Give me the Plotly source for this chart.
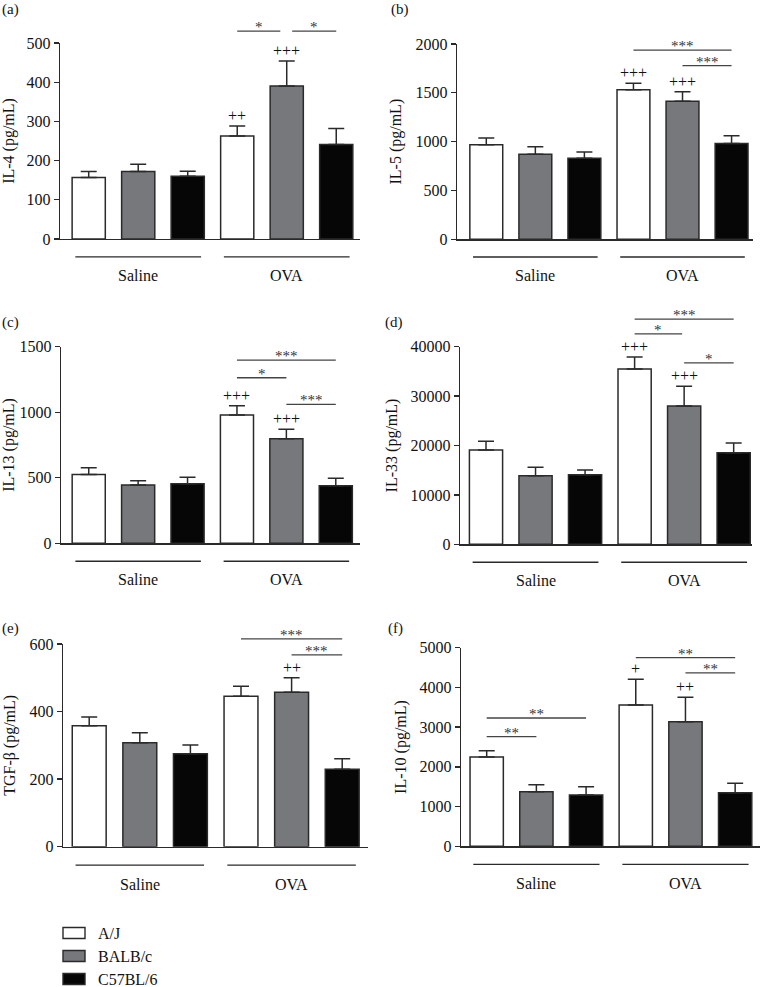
import plotly.graph_objects as go

# ---------------- data ----------------
strains = ["A/J", "BALB/c", "C57BL/6"]
groups = ["Saline", "OVA"]
strain_colors = ["#ffffff", "#77787c", "#060606"]

# order: Saline A/J, BALB/c, C57BL/6, OVA A/J, BALB/c, C57BL/6
il4_mean = [157, 172, 160, 263, 390, 241]
il4_sem = [15, 19, 13, 25, 64, 41]
il5_mean = [969, 870, 829, 1532, 1413, 980]
il5_sem = [69, 79, 65, 65, 99, 81]
il13_mean = [524, 445, 455, 979, 798, 440]
il13_sem = [53, 33, 48, 71, 72, 56]
il33_mean = [19090, 13900, 14100, 35480, 27990, 18550]
il33_sem = [1750, 1680, 940, 2430, 3980, 1950]
tgfb_mean = [358, 308, 275, 445, 457, 229]
tgfb_sem = [26, 29, 26, 30, 43, 31]
il10_mean = [2248, 1376, 1292, 3557, 3138, 1351]
il10_sem = [160, 176, 210, 646, 612, 235]

il4_plus = ["", "", "", "++", "+++", ""]
il5_plus = ["", "", "", "+++", "+++", ""]
il13_plus = ["", "", "", "+++", "+++", ""]
il33_plus = ["", "", "", "+++", "+++", ""]
tgfb_plus = ["", "", "", "", "++", ""]
il10_plus = ["", "", "", "+", "++", ""]

il4_sig = [(3, 4, "*"), (4, 5, "*")]
il5_sig = [(3, 5, "***"), (4, 5, "***")]
il13_sig = [(3, 5, "***"), (3, 4, "*"), (4, 5, "***")]
il33_sig = [(3, 5, "***"), (3, 4, "*"), (4, 5, "*")]
tgfb_sig = [(3, 5, "***"), (4, 5, "***")]
il10_sig = [(0, 2, "**"), (0, 1, "**"), (3, 5, "**"), (4, 5, "**")]

# ---------------- layout spec ----------------
W, H = 760, 987
FONT = "Liberation Serif, Times New Roman, serif"
INK = "#2a2a2a"

panels = [
    dict(lab="(a)", lab_xy=(10, 9), title="IL-4 (pg/mL)", mean=il4_mean, sem=il4_sem,
         plus=il4_plus, sig=il4_sig, ymax=500, dtick=100, px=(60, 360, 43, 239),
         xr=(-0.58, 5.48), sig_y=[1.061, 1.061], trim=[(0, 0.13), (0.11, 0)]),
    dict(lab="(b)", lab_xy=(400, 9), title="IL-5 (pg/mL)", mean=il5_mean, sem=il5_sem,
         plus=il5_plus, sig=il5_sig, ymax=2000, dtick=500, px=(457, 753, 44, 239.3),
         xr=(-0.597, 5.437), sig_y=[0.969, 0.889], trim=[(0, 0), (0, 0)]),
    dict(lab="(c)", lab_xy=(10, 322), title="IL-13 (pg/mL)", mean=il13_mean, sem=il13_sem,
         plus=il13_plus, sig=il13_sig, ymax=1500, dtick=500, px=(61, 360, 346.7, 543.3),
         xr=(-0.561, 5.49), sig_y=[0.932, 0.842, 0.707], trim=[(0, 0), (0, 0), (0, 0)]),
    dict(lab="(d)", lab_xy=(394, 322), title="IL-33 (pg/mL)", mean=il33_mean, sem=il33_sem,
         plus=il33_plus, sig=il33_sig, ymax=40000, dtick=10000, px=(460, 752, 346.7, 544.3),
         xr=(-0.525, 5.37), sig_y=[1.140, 1.065, 0.918], trim=[(0, 0), (0, 0.04), (0, 0)]),
    dict(lab="(e)", lab_xy=(10, 628), title="TGF-β (pg/mL)", mean=tgfb_mean, sem=tgfb_sem,
         plus=tgfb_plus, sig=tgfb_sig, ymax=600, dtick=200, px=(63, 368, 644, 846.7),
         xr=(-0.518, 5.51), sig_y=[1.025, 0.946], trim=[(0, 0), (0, 0)]),
    dict(lab="(f)", lab_xy=(396, 628), title="IL-10 (pg/mL)", mean=il10_mean, sem=il10_sem,
         plus=il10_plus, sig=il10_sig, ymax=5000, dtick=1000, px=(461, 760, 647.7, 846.3),
         xr=(-0.517, 5.50), sig_y=[0.646, 0.552, 0.950, 0.873], trim=[(0, 0)] * 4),
]

fig = go.Figure()
shapes = []
annotations = []
layout = {}

for k, p in enumerate(panels, start=1):
    xa = "x" if k == 1 else f"x{k}"
    ya = "y" if k == 1 else f"y{k}"
    xkey = "xaxis" if k == 1 else f"xaxis{k}"
    ykey = "yaxis" if k == 1 else f"yaxis{k}"
    x0, x1, ytop, ybot = p["px"]
    r0, r1 = p["xr"]

    for s, name in enumerate(strains):
        idx = [g * 3 + s for g in range(len(groups))]
        fig.add_trace(go.Bar(
            x=idx, y=[p["mean"][i] for i in idx],
            width=0.67, name=name, showlegend=False,
            marker=dict(color=strain_colors[s], line=dict(color=INK, width=1.5)),
            error_y=dict(type="data", symmetric=False,
                         array=[p["sem"][i] for i in idx],
                         arrayminus=[0] * len(idx),
                         color=INK, thickness=1.5, width=8),
            xaxis=xa, yaxis=ya, hoverinfo="skip",
        ))

    layout[xkey] = dict(domain=[x0 / W, x1 / W], range=[r0, r1], anchor=ya,
                        showticklabels=False, ticks="", showgrid=False, zeroline=False,
                        showline=True, linecolor=INK, linewidth=1.4, fixedrange=True,
                        automargin=False)
    layout[ykey] = dict(domain=[1 - ybot / H, 1 - ytop / H], range=[0, p["ymax"]],
                        dtick=p["dtick"], tickformat="d", anchor=xa, showgrid=False,
                        zeroline=False, automargin=False,
                        showline=True, linecolor=INK, linewidth=1.4,
                        ticks="outside", ticklen=5, tickwidth=1.3, tickcolor=INK,
                        tickfont=dict(family=FONT, size=16, color="#111"),
                        title=dict(text=p["title"], standoff=9,
                                   font=dict(family=FONT, size=16, color="#111")),
                        fixedrange=True)

    def fx(v):
        return (v - r0) / (r1 - r0)

    # group lines and labels
    for g, gname in enumerate(groups):
        c = g * 3 + 1
        shapes.append(dict(type="line", xref=f"{xa} domain", yref=f"{ya} domain",
                           x0=fx(c - 1.27), x1=fx(c + 1.27), y0=-0.091, y1=-0.091,
                           line=dict(color=INK, width=1.4)))
        annotations.append(dict(xref=f"{xa} domain", yref=f"{ya} domain",
                                x=fx(c), y=-0.185, text=gname, showarrow=False,
                                xanchor="center", yanchor="middle",
                                font=dict(family=FONT, size=16, color="#111")))

    # significance brackets
    for (i, j, lab), yl, (tl, tr) in zip(p["sig"], p["sig_y"], p["trim"]):
        shapes.append(dict(type="line", xref=f"{xa} domain", yref=f"{ya} domain",
                           x0=fx(i + tl), x1=fx(j - tr), y0=yl, y1=yl,
                           line=dict(color="#444", width=1.3)))
        annotations.append(dict(xref=f"{xa} domain", yref=f"{ya} domain",
                                x=fx((i + tl + j - tr) / 2), y=yl, text=lab,
                                showarrow=False, xanchor="center", yanchor="bottom",
                                yshift=-6, font=dict(family=FONT, size=15, color="#333")))

    # plus signs above error bars
    for i, t in enumerate(p["plus"]):
        if t:
            annotations.append(dict(xref=xa, yref=ya, x=i, y=p["mean"][i] + p["sem"][i],
                                    text=t, showarrow=False, xanchor="center",
                                    yanchor="bottom", yshift=0,
                                    font=dict(family=FONT, size=16, color="#111")))

    # panel label
    lx, ly = p["lab_xy"]
    annotations.append(dict(xref="paper", yref="paper", x=lx / W, y=1 - ly / H,
                            text=p["lab"], showarrow=False, xanchor="center",
                            yanchor="middle", font=dict(family=FONT, size=15, color="#111")))

# legend (custom swatches)
for s, name in enumerate(strains):
    yc = 933 + 23 * s
    shapes.append(dict(type="rect", xref="paper", yref="paper",
                       x0=63 / W, x1=85 / W, y0=1 - (yc + 5.5) / H, y1=1 - (yc - 5.5) / H,
                       fillcolor=strain_colors[s], line=dict(color=INK, width=1.4)))
    annotations.append(dict(xref="paper", yref="paper", x=97 / W, y=1 - yc / H,
                            text=name, showarrow=False, xanchor="left", yanchor="middle",
                            borderpad=0,
                            font=dict(family=FONT, size=16, color="#111")))

fig.update_layout(
    width=W, height=H, margin=dict(l=0, r=0, t=0, b=0, pad=0, autoexpand=False),
    paper_bgcolor="white", plot_bgcolor="white",
    barmode="overlay", showlegend=False, hovermode=False,
    shapes=shapes, annotations=annotations,
    **layout,
)

fig.write_html("out.html", config={"displayModeBar": False, "staticPlot": True},
               post_script="document.body.style.margin='0';document.body.style.overflow='hidden';")
